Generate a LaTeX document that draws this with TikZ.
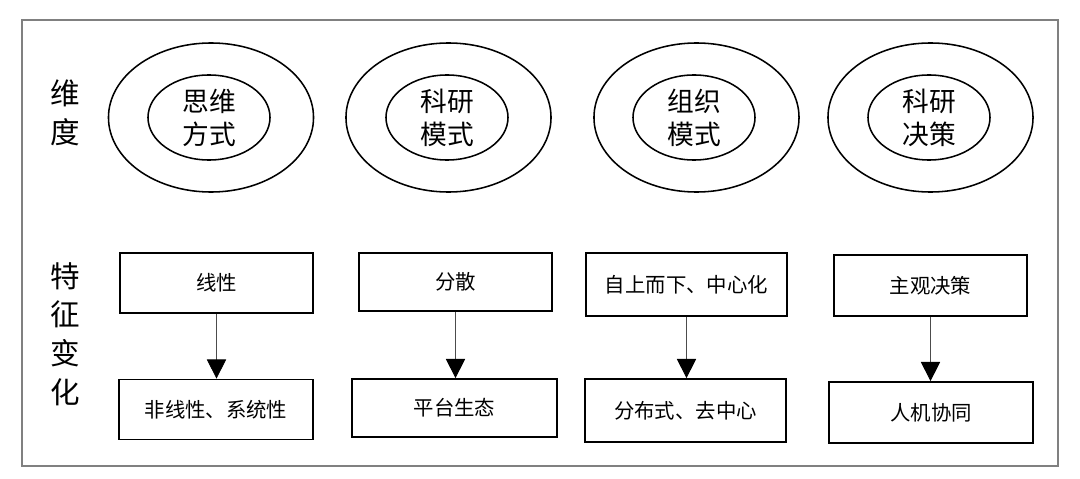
\documentclass[tikz,border=0pt]{standalone}
\usepackage{fontspec}
\usetikzlibrary{arrows.meta, shapes.geometric}
\newfontfamily\cjk{Noto Sans CJK SC}

\tikzset{
  ring/.style={draw, ellipse, line width=1.1pt, minimum width=5.125cm, minimum height=3.725cm},
  core/.style={draw, ellipse, line width=1.1pt, minimum width=3.05cm, minimum height=2.125cm,
    inner sep=0pt, align=center, font=\cjk\fontsize{19}{23.4}\selectfont},
  featbox/.style={draw, line width=1.2pt, minimum height=1.5cm, inner sep=0pt,
    font=\cjk\fontsize{14.5}{17}\selectfont},
  rowlabel/.style={align=center, font=\cjk\fontsize{21}{27.5}\selectfont},
  changearrow/.style={-{Triangle[width=0.48cm,length=0.48cm,color=black]}, gray!60!black, line width=0.6pt},
}

\begin{document}
\begin{tikzpicture}[x=0.025cm, y=-0.025cm]
  \useasboundingbox (0,0) rectangle (1080,479);
  % frame
  \draw[gray, line width=0.8pt] (22,20) rectangle (1058,466);

  % row labels
  \node[rowlabel] (dimlab) at (65,112.5) {维\\度};
  \node[rowlabel] (featlab) at (65,334) {特\\征\\变\\化};

  % dimensions
  \node[ring] (ring1) at (211,117.5) {};
  \node[core] (core1) at (209,117.5) {思维\\方式};
  \node[ring] (ring2) at (448.5,117.5) {};
  \node[core] (core2) at (447,117.5) {科研\\模式};
  \node[ring] (ring3) at (696.5,117.5) {};
  \node[core] (core3) at (694,117.5) {组织\\模式};
  \node[ring] (ring4) at (930.5,117.5) {};
  \node[core] (core4) at (929,117.5) {科研\\决策};

  % feature changes
  \node[featbox, minimum width=4.825cm] (top1) at (216.5,283) {线性};
  \node[featbox, minimum width=4.85cm] (bot1) at (216,409.5) {非线性、系统性};
  \node[featbox, minimum width=4.825cm, minimum height=1.45cm] (top2) at (455.5,282) {分散};
  \node[featbox, minimum width=5.125cm, minimum height=1.45cm] (bot2) at (454.5,408) {平台生态};
  \node[featbox, minimum width=5.025cm, minimum height=1.575cm] (top3) at (686.5,284.5) {自上而下、中心化};
  \node[featbox, minimum width=5.025cm, minimum height=1.575cm] (bot3) at (685.5,410.5) {分布式、去中心};
  \node[featbox, minimum width=4.825cm, minimum height=1.525cm] (top4) at (930.5,285.5) {主观决策};
  \node[featbox, minimum width=5.1cm, minimum height=1.525cm] (bot4) at (931,412.5) {人机协同};

  % arrows
  \foreach \i in {1,...,4}
    \draw[changearrow] (top\i.south) -- (top\i.south |- bot\i.north);
\end{tikzpicture}
\end{document}
